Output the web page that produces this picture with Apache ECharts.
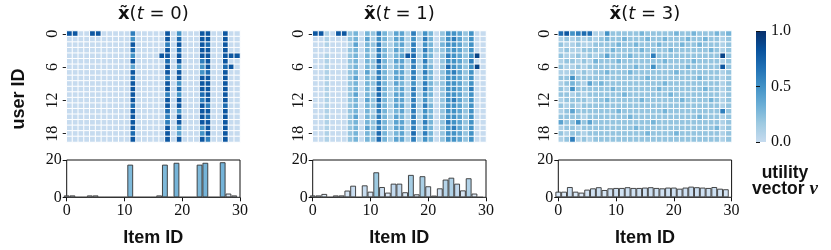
<!DOCTYPE html>
<html><head><meta charset="utf-8">
<script src="https://cdn.jsdelivr.net/npm/echarts@6/dist/echarts.min.js"></script>
<style>html,body{margin:0;padding:0;background:#fff}#c{width:831px;height:250px}</style>
</head><body><div id="c"></div>
<script>
const itemIds = [0,1,2,3,4,5,6,7,8,9,10,11,12,13,14,15,16,17,18,19,20,21,22,23,24,25,26,27,28,29];
const userIds = [0,1,2,3,4,5,6,7,8,9,10,11,12,13,14,15,16,17,18,19];
const panelTitles = ['0','1','3'];
const barTicks = [0,10,20,30];
const colorbarTicks = [0.0,0.5,1.0];

// heatmap values in tenths, rows = users, columns = items
const xT0 = [
[8,8,0,0,8,8,0,0,0,0,0,6,0,0,0,0,0,8,0,5,0,0,0,8,8,0,0,8,0,0],
[0,0,0,0,0,0,0,0,0,0,0,5,0,0,0,0,0,8,0,7,0,0,0,8,8,0,0,8,0,0],
[0,0,0,0,0,0,0,0,0,0,0,8,0,0,0,0,0,6,0,8,0,0,0,8,7,0,0,8,0,0],
[0,0,0,0,0,0,0,0,0,0,0,7,0,0,0,0,0,8,0,7,0,0,0,8,8,0,0,8,0,0],
[0,0,0,0,0,0,0,0,0,0,0,5,0,0,0,0,8,8,0,8,0,0,0,8,8,0,0,8,8,8],
[0,0,0,0,0,0,0,0,0,0,0,8,0,0,0,0,0,7,0,8,0,0,0,6,8,0,0,8,0,0],
[0,0,0,0,0,0,0,0,0,0,0,4,0,0,0,0,0,8,0,5,0,0,0,5,8,0,0,7,8,0],
[0,0,0,0,0,0,0,0,0,0,0,8,0,0,0,0,0,8,0,8,0,0,0,5,7,0,0,8,0,0],
[0,0,0,0,0,0,0,0,0,0,0,7,0,0,0,0,0,6,0,8,0,0,0,8,8,0,0,8,0,0],
[0,0,0,0,0,0,0,0,0,0,0,8,0,0,0,0,0,8,0,5,0,0,0,8,8,0,0,8,0,0],
[0,0,0,0,0,0,0,0,0,0,0,8,0,0,0,0,0,8,0,7,0,0,0,8,8,0,0,8,0,0],
[0,0,0,0,0,0,0,0,0,0,0,8,0,0,0,0,0,6,0,5,0,0,0,7,8,0,0,8,0,0],
[0,0,0,0,0,0,0,0,0,0,0,8,0,0,0,0,0,8,0,8,0,0,0,6,8,0,0,8,0,0],
[0,0,0,0,0,0,0,0,0,0,0,7,0,0,0,0,0,8,0,8,0,0,0,8,6,0,0,7,0,0],
[0,0,0,0,0,0,0,0,0,0,0,8,0,0,0,0,0,7,0,5,0,0,0,8,8,0,0,8,0,0],
[0,0,0,0,0,0,0,0,0,0,0,8,0,0,0,0,0,6,0,8,0,0,0,8,7,0,0,8,0,0],
[0,0,0,0,0,0,0,0,0,0,0,8,0,0,0,0,0,6,0,8,0,0,0,8,8,0,0,8,0,0],
[0,0,0,0,0,0,0,0,0,0,0,8,0,0,0,0,0,8,0,5,0,0,0,5,8,0,0,8,0,0],
[0,0,0,0,0,0,0,0,0,0,0,7,0,0,0,0,0,8,0,4,0,0,0,5,8,0,0,8,0,0],
[0,0,0,0,0,0,0,0,0,0,0,8,0,0,0,0,0,8,0,8,0,0,0,8,6,0,0,8,0,0]
];
const xT1 = [
[8,8,1,0,8,8,2,3,0,3,2,6,3,1,4,4,1,6,1,5,3,0,2,5,5,4,2,5,0,0],
[0,0,1,0,0,0,2,3,0,4,1,5,3,1,4,4,1,5,1,6,3,0,2,5,6,4,2,5,0,0],
[0,0,1,0,0,0,1,4,0,3,2,6,2,1,3,4,1,6,0,5,3,0,3,5,5,4,2,5,0,0],
[0,0,0,0,0,0,2,3,0,3,1,6,3,1,4,3,1,6,1,6,3,1,2,4,5,4,2,5,0,0],
[0,0,1,0,0,0,2,3,0,3,1,6,3,1,3,4,8,7,1,5,3,0,2,6,5,4,2,5,9,0],
[0,0,1,0,0,0,2,3,0,3,2,7,3,1,4,4,1,6,1,6,2,0,2,5,5,4,2,6,0,0],
[0,0,1,0,0,0,2,3,0,3,2,6,3,1,3,4,1,6,1,5,3,0,2,7,5,4,2,5,9,0],
[0,0,1,0,0,0,2,3,0,4,1,6,3,1,4,4,1,6,1,6,3,0,2,5,6,4,2,5,0,0],
[0,0,1,0,0,0,2,4,0,3,2,6,3,1,4,4,1,6,1,5,3,0,2,5,5,4,2,5,0,0],
[0,0,1,0,0,0,2,3,0,3,2,6,3,1,4,3,1,5,1,6,3,1,2,5,5,4,2,5,0,0],
[0,0,1,0,0,0,2,3,0,3,1,7,3,1,3,4,1,6,1,6,3,0,2,5,5,4,2,6,0,0],
[0,0,1,0,0,0,2,4,0,3,2,7,3,1,4,4,1,6,1,5,3,0,2,5,5,4,2,5,0,0],
[0,0,1,0,0,0,2,3,0,4,2,7,3,1,4,4,1,6,1,5,2,0,2,5,6,4,2,5,0,0],
[0,0,1,0,0,0,2,3,0,3,2,6,3,1,4,4,1,6,1,6,3,0,2,5,5,4,2,5,0,0],
[0,0,1,0,0,0,2,3,0,3,1,6,3,1,3,4,1,6,1,5,3,0,2,5,5,4,2,5,0,0],
[0,0,1,0,0,0,2,4,0,3,2,6,3,1,4,3,1,6,1,5,3,0,2,5,5,4,2,5,0,0],
[0,0,1,0,0,0,2,3,0,3,2,6,3,1,4,4,1,6,1,6,3,0,2,6,5,4,2,5,0,0],
[0,0,1,0,0,0,2,3,0,4,2,6,3,1,4,4,1,6,1,5,3,0,2,5,6,4,2,5,0,0],
[0,0,1,0,0,0,2,3,0,3,2,7,3,1,3,4,1,7,1,6,3,0,2,5,5,4,2,5,0,0],
[0,0,1,0,0,0,2,3,0,3,2,7,3,1,4,4,1,6,1,5,3,0,2,5,5,4,2,5,0,0]
];
const xT3 = [
[7,8,5,6,7,7,1,1,5,2,2,2,2,2,3,2,2,2,2,2,3,2,2,3,2,2,2,3,2,3],
[1,2,1,2,1,2,1,2,3,2,2,3,2,2,2,3,2,2,3,2,2,2,3,2,2,3,2,2,1,2],
[2,1,1,2,1,1,2,2,2,2,3,2,2,3,2,2,2,3,2,2,2,3,2,2,3,2,2,2,1,2],
[1,2,1,1,2,2,2,1,2,3,2,2,2,2,3,2,2,2,2,3,2,2,2,2,2,2,3,2,1,2],
[2,1,1,2,1,2,1,2,4,2,2,2,3,2,2,2,6,2,2,2,2,2,2,2,2,2,2,2,9,2],
[1,2,2,1,2,1,3,2,2,2,3,2,2,2,2,2,2,2,3,2,2,2,2,3,2,2,2,2,1,2],
[2,1,1,2,1,2,2,2,2,2,2,2,2,3,2,2,5,2,2,2,2,2,3,2,2,2,2,2,8,2],
[1,1,2,1,2,1,2,2,3,2,2,2,3,2,2,2,2,2,2,2,3,2,2,2,2,2,2,2,1,2],
[2,2,5,2,2,2,2,2,2,2,2,2,2,2,2,3,2,2,2,2,2,2,2,2,3,2,2,2,1,2],
[1,2,3,2,1,4,2,3,2,2,2,2,2,2,2,2,2,2,3,2,2,2,2,2,2,2,2,2,1,2],
[2,1,5,2,2,2,2,2,2,3,2,2,2,2,2,2,2,3,2,2,2,2,2,2,2,3,2,2,1,2],
[2,2,1,2,1,2,2,2,2,2,2,3,2,2,2,2,2,2,2,3,2,2,2,2,2,2,2,2,1,2],
[1,2,2,2,2,1,2,2,3,2,2,2,2,2,3,2,2,2,2,2,2,3,2,2,2,2,3,2,1,2],
[2,1,2,1,2,2,2,2,2,2,2,2,2,2,2,2,2,2,2,2,2,2,2,2,2,2,2,2,1,2],
[1,2,4,2,2,2,2,2,2,2,3,2,2,2,2,2,2,2,3,2,2,2,2,2,2,2,2,2,6,2],
[2,2,2,2,1,2,2,2,2,2,2,2,3,2,2,2,2,2,2,2,2,2,2,2,3,2,2,2,1,2],
[4,2,2,5,2,4,2,2,2,2,2,2,2,2,2,2,3,2,2,2,2,2,2,2,2,2,2,2,1,2],
[1,2,2,1,2,2,2,2,2,2,2,2,2,3,2,2,2,2,2,2,2,2,2,2,2,2,2,3,1,2],
[2,1,2,2,1,2,2,2,2,2,2,2,2,2,2,3,2,2,2,2,3,2,2,2,2,2,2,2,1,2],
[1,2,6,1,2,1,2,2,2,2,2,2,2,2,2,2,2,2,2,2,2,2,2,2,2,2,2,2,1,2]
];

// utility vector v per item
const vT0 = [1,1,0,0,1,1,0,0,0,0,0,17.5,0,0,0,0,1,17.5,0,18.5,0,0,0,17.5,18.5,0,0,18.8,2,1];
const vT1 = [1,1,1.8,0,1,1,3.6,6.2,0,6.4,3,13.4,5.5,2.5,7.3,7.3,2.7,12,1.6,11.3,5.9,0.9,4.8,9.5,10.5,7.3,3.7,10.2,2,0];
const vT3 = [3,3,5.5,3,2.5,4.1,4.8,5.4,3.9,4.8,5,5,5.4,5,5,5.2,5.4,5,4.8,5.2,5.2,4.6,5.2,5.7,5.4,5.2,5,5.5,4.6,4.3];

const blues = ['#c6dbef','#9ecae1','#6baed6','#4292c6','#2171b5','#08519c','#08306b'];
const barBlues = ['#eaf2fb','#c6dbef','#9ecae1','#6baed6'];

const heat = [xT0, xT1, xT3];
const vecs = [vT0, vT1, vT3];
const lefts = [66.7, 312.7, 558.3];
const GW = 173.3, HT = 31, HH = 111, BT = 160, BH = 37.3;
const serif = 'Liberation Serif', sans = 'Liberation Sans';

function cells(rows){ const out=[]; rows.forEach((row,y)=>row.forEach((v,x)=>out.push([itemIds[x], userIds[y], v/10]))); return out; }
const showRow = (i)=> i % 6 === 0;

const grids = [], xAxes = [], yAxes = [], series = [], titles = [];
for (let k=0;k<3;k++){
  grids.push({left:lefts[k], top:HT, width:GW, height:HH});
  xAxes.push({gridIndex:k, type:'category', data:itemIds, show:false});
  yAxes.push({gridIndex:k, type:'category', data:userIds, inverse:true,
    axisLine:{show:false},
    axisTick:{show:true, alignWithLabel:true, interval:showRow, length:4, lineStyle:{color:'#222'}},
    axisLabel:{interval:showRow, rotate:90, fontFamily:serif, fontSize:16, color:'#111', margin:6},
    splitLine:{show:false}
  });
  series.push({type:'heatmap', xAxisIndex:k, yAxisIndex:k, data:cells(heat[k]),
    itemStyle:{borderColor:'#fff', borderWidth:1}, emphasis:{disabled:true}, progressive:0});
  titles.push({text:'{b|x\u0303}{n|(}{i|t}{n| = '+panelTitles[k]+')}', left:lefts[k]+GW/2, textAlign:'center', top:5, padding:0,
    textStyle:{fontWeight:'normal', rich:{
      b:{fontFamily:'DejaVu Sans', fontWeight:'bold', fontSize:18, color:'#111'},
      n:{fontFamily:'DejaVu Sans', fontWeight:'normal', fontSize:18, color:'#111'},
      i:{fontFamily:'DejaVu Sans', fontWeight:'normal', fontStyle:'italic', fontSize:18, color:'#111'}}}});
}
for (let k=0;k<3;k++){
  grids.push({left:lefts[k], top:BT, width:GW, height:BH, show:true, borderColor:'#111', borderWidth:1});
  xAxes.push({gridIndex:3+k, type:'value', min:barTicks[0], max:barTicks[3], interval:10,
    axisLine:{show:false}, axisTick:{show:true, length:4, lineStyle:{color:'#111'}},
    axisLabel:{fontFamily:serif, fontSize:16, color:'#111', margin:5}, splitLine:{show:false},
    name:'Item ID', nameLocation:'middle', nameGap:32,
    nameTextStyle:{fontFamily:sans, fontWeight:'bold', fontSize:18, color:'#111'}});
  yAxes.push({gridIndex:3+k, type:'value', min:0, max:20, interval:20,
    axisLine:{show:false}, axisTick:{show:true, length:4, lineStyle:{color:'#111'}},
    axisLabel:{fontFamily:serif, fontSize:16, color:'#111', margin:5}, splitLine:{show:false}});
  series.push({type:'bar', xAxisIndex:3+k, yAxisIndex:3+k,
    data: vecs[k].map((h,i)=>[itemIds[i], h]), barWidth: GW/30,
    itemStyle:{borderColor:'#333', borderWidth:0.9}, emphasis:{disabled:true}});
}
// colorbar
grids.push({left:756, top:31, width:10, height:111});
xAxes.push({gridIndex:6, type:'value', show:false, min:0, max:1});
yAxes.push({gridIndex:6, type:'value', min:colorbarTicks[0], max:colorbarTicks[2], interval:0.5, position:'right',
  axisLine:{show:false}, axisTick:{show:true, length:4, lineStyle:{color:'#111'}},
  axisLabel:{fontFamily:serif, fontSize:16, color:'#111', margin:5, formatter:(v)=>v.toFixed(1)},
  splitLine:{show:false}});

titles.push({text:'{a|utility}\n{a|vector }{v|v}', left:785, textAlign:'center', top:165, padding:0,
  textStyle:{fontWeight:'normal', rich:{
    a:{fontFamily:sans, fontWeight:'bold', fontSize:17.5, color:'#111', lineHeight:16},
    v:{fontFamily:serif, fontStyle:'italic', fontWeight:'bold', fontSize:19, color:'#111', lineHeight:16}}}});

const chart = echarts.init(document.getElementById('c'), null, {renderer:'canvas'});
chart.setOption({
  animation:false,
  backgroundColor:'#fff',
  title: titles,
  grid: grids, xAxis: xAxes, yAxis: yAxes,
  visualMap:[
    {type:'continuous', seriesIndex:[0,1,2], dimension:2, min:0, max:1, show:false, inRange:{color:blues}},
    {type:'continuous', seriesIndex:[3,4,5], dimension:1, min:0, max:20, show:false, inRange:{color:barBlues}}
  ],
  graphic:[
    {type:'rect', shape:{x:756, y:31, width:10, height:111},
     style:{fill:new echarts.graphic.LinearGradient(0,1,0,0, blues.map((c,i)=>({offset:i/(blues.length-1), color:c})))}},
    {type:'text', x:19, y:99, rotation:Math.PI/2,
     style:{text:'user ID', align:'center', verticalAlign:'middle', fontFamily:sans, fontWeight:'bold', fontSize:18, fill:'#111'}}
  ],
  series: series
});
</script></body></html>
